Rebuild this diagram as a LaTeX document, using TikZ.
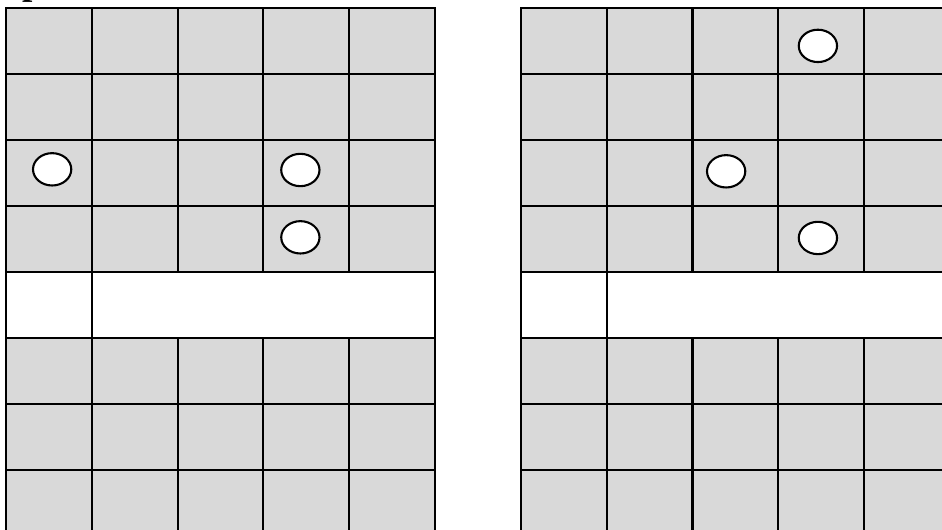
\documentclass[tikz,border=0pt]{standalone}
\usepackage{fontspec}
\setmainfont{Liberation Serif}
\definecolor{cellgray}{RGB}{217, 217, 217}
\usetikzlibrary{calc}

\begin{document}
\begin{tikzpicture}[line width=0.9pt]
    \clip (0,0) rectangle (14.27,8.015);

    % Caption letter, cut off by the top edge
    \node[anchor=base west, inner sep=0pt, font=\fontsize{16}{16}\selectfont\bfseries] (cap) at (0.32,8.10) {p};

    % Two blocks of 5 x 8 cells, one column apart
    \foreach \bx in {0.09, 7.89} {
        % gray cells, row 5 left out
        \foreach \r in {1,2,3,4,6,7,8} {
            \foreach \c in {1,...,5} {
                \filldraw[fill=cellgray] ({\bx+(\c-1)*1.3},{7.89-\r}) rectangle ({\bx+\c*1.3},{7.89-\r+1});
            }
        }
        % white band in row 5
        \draw (\bx,2.89) rectangle ({\bx+1.3},3.89);
        \draw ({\bx+1.3},2.89) rectangle ({\bx+6.5},3.89);
    }

    % Occupied cells
    \foreach \x/\y in {12.39/7.32, 0.79/5.45, 4.55/5.44, 11.0/5.42, 4.55/4.42, 12.39/4.41} {
        \filldraw[fill=white] (\x,\y) ellipse (0.29 and 0.245);
    }
\end{tikzpicture}
\end{document}
